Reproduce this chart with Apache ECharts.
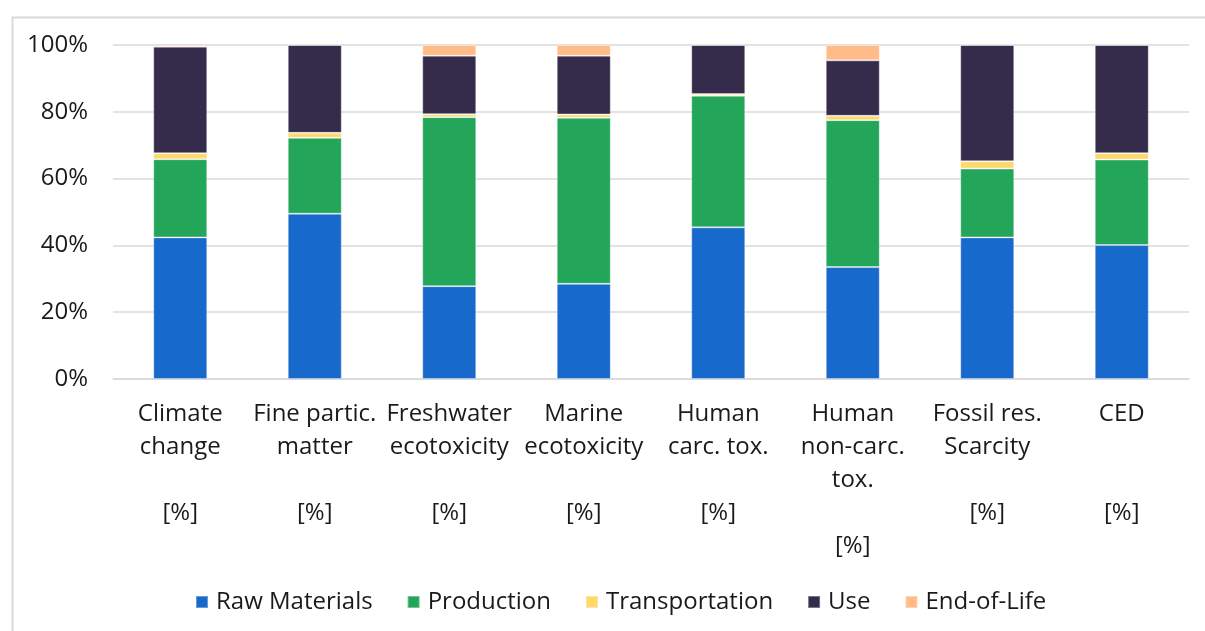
<!DOCTYPE html>
<html>
<head>
<meta charset="utf-8">
<script src="https://cdn.jsdelivr.net/npm/echarts@6/dist/echarts.min.js"></script>
<style>
  html, body { margin: 0; padding: 0; background: #ffffff; }
  #chart { width: 1205px; height: 631px; }
</style>
</head>
<body>
<div id="chart"></div>
<script>
// Impact categories (x axis)
const categories = [
  'Climate\nchange\n\n[%]',
  'Fine partic.\nmatter\n\n[%]',
  'Freshwater\necotoxicity\n\n[%]',
  'Marine\necotoxicity\n\n[%]',
  'Human\ncarc. tox.\n\n[%]',
  'Human\nnon-carc.\ntox.\n\n[%]',
  'Fossil res.\nScarcity\n\n[%]',
  'CED\n\n\n[%]'
];

// Life-cycle stage shares, in percent
const rawMaterials   = [42.4, 49.5, 27.8, 28.5, 45.4, 33.5, 42.4, 40.1];
const production     = [23.4, 22.7, 50.6, 49.7, 39.4, 44.0, 20.6, 25.6];
const transportation = [1.8, 1.5, 0.9, 1.0, 0.5, 1.3, 2.2, 1.9];
const useStage       = [31.9, 26.3, 17.5, 17.6, 14.7, 16.6, 34.8, 32.4];
const endOfLife      = [0.5, 0.0, 3.2, 3.2, 0.0, 4.6, 0.0, 0.0];

// Y axis ticks
const yTicks = [0, 20, 40, 60, 80, 100];

const stages = [
  { name: 'Raw Materials',  data: rawMaterials,   color: '#1769CB' },
  { name: 'Production',     data: production,     color: '#23A55A' },
  { name: 'Transportation', data: transportation, color: '#FDD96C' },
  { name: 'Use',            data: useStage,       color: '#352B4A' },
  { name: 'End-of-Life',    data: endOfLife,      color: '#FFBB88' }
];

const FONT = '"Open Sans", "Noto Sans", sans-serif';
const FONT_SIZE = 24;

const chart = echarts.init(document.getElementById('chart'), null, { renderer: 'canvas' });

chart.setOption({
  backgroundColor: '#ffffff',
  animation: false,
  textStyle: { fontFamily: FONT },
  graphic: [{
    type: 'rect',
    left: 10,
    top: 15,
    shape: { width: 1300, height: 700 },
    style: { fill: 'none', stroke: '#D9D9D9', lineWidth: 2 },
    silent: true,
    z: -10
  }],
  grid: { left: 113, right: 16, top: 45, bottom: 252, containLabel: false },
  legend: {
    left: 195,
    top: 590,
    padding: 0,
    itemWidth: 12,
    itemHeight: 12,
    itemGap: 34,
    icon: 'rect',
    textStyle: { fontFamily: FONT, fontSize: FONT_SIZE, color: '#1a1a1a', padding: [0, 0, 0, 3] },
    data: stages.map(s => s.name)
  },
  xAxis: {
    type: 'category',
    data: categories,
    axisLine: { show: true, lineStyle: { color: '#D9D9D9', width: 1.5 } },
    axisTick: { show: false },
    axisLabel: {
      interval: 0,
      margin: 19,
      fontFamily: FONT,
      fontSize: FONT_SIZE,
      lineHeight: 33,
      color: '#1a1a1a',
      verticalAlign: 'top'
    }
  },
  yAxis: {
    type: 'value',
    min: yTicks[0],
    max: yTicks[yTicks.length - 1],
    interval: 20,
    axisLine: { show: false },
    axisTick: { show: false },
    splitLine: { show: true, lineStyle: { color: '#D9D9D9', width: 1.5 } },
    axisLabel: {
      margin: 25,
      fontFamily: FONT,
      fontSize: FONT_SIZE,
      color: '#1a1a1a',
      formatter: '{value}%'
    }
  },
  series: stages.map(s => ({
    name: s.name,
    type: 'bar',
    stack: 'total',
    barWidth: 54,
    data: s.data,
    itemStyle: { color: s.color, borderColor: 'rgba(255,255,255,0.35)', borderWidth: 1 },
    emphasis: { disabled: true }
  }))
});
</script>
</body>
</html>
